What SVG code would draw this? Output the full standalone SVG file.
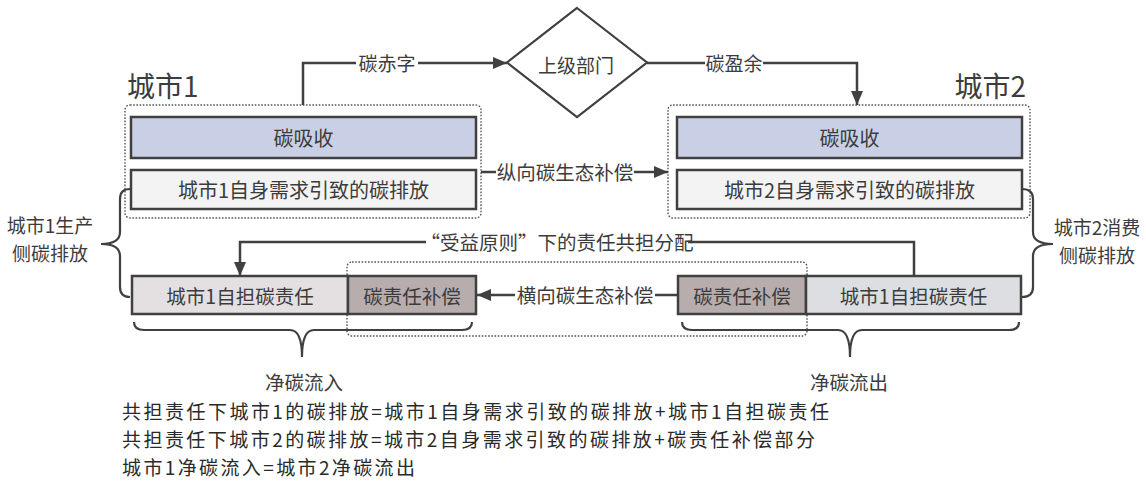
<svg xmlns="http://www.w3.org/2000/svg" width="1146" height="486" viewBox="0 0 1146 486">
<style>
.t{font-family:"Noto Sans CJK SC","Noto Sans",sans-serif;fill:#3c3c3c}
.c{text-anchor:middle;dominant-baseline:central}
.box{stroke:#404040;stroke-width:2.5}
.cont{fill:none;stroke:#555;stroke-width:1.4;stroke-dasharray:1.6 1.6}
.ln{fill:none;stroke:#404040;stroke-width:2.5}
.br{fill:none;stroke:#404040;stroke-width:2.2}
.bg{fill:#fff}
.f{font-family:"Noto Sans CJK SC","Noto Sans",sans-serif;font-weight:400;fill:#2a2a2a;font-size:19px}
</style>
<defs>
<marker id="ah" viewBox="0 0 14 12" refX="14" refY="6" markerWidth="14" markerHeight="12" markerUnits="userSpaceOnUse" orient="auto"><path d="M0,0 L14,6 L0,12 Z" fill="#404040"/></marker>
</defs>
<rect width="1146" height="486" fill="#fff"/>

<g id="city1">
<text class="t" x="127" y="97" font-size="28">城市1</text>
<rect class="cont" x="125" y="105" width="356" height="113" rx="5"/>
<rect class="box" x="131" y="117" width="345" height="41" fill="#c9d0e6"/>
<text class="t c" x="303.5" y="137.5" font-size="20">碳吸收</text>
<rect class="box" x="131" y="170" width="345" height="39" fill="#f3f3f4"/>
<text class="t c" x="303.5" y="189.5" font-size="20">城市1自身需求引致的碳排放</text>
</g>

<g id="city2">
<text class="t" x="1026" y="97" font-size="28" text-anchor="end">城市2</text>
<rect class="cont" x="668" y="105" width="362" height="113" rx="5"/>
<rect class="box" x="677" y="117" width="345" height="41" fill="#c9d0e6"/>
<text class="t c" x="849.5" y="137.5" font-size="20">碳吸收</text>
<rect class="box" x="677" y="170" width="345" height="39" fill="#f3f3f4"/>
<text class="t c" x="849.5" y="189.5" font-size="20">城市2自身需求引致的碳排放</text>
</g>

<g id="dept">
<polygon points="577,8 647,62.5 577,117 507,62.5" fill="#fff" stroke="#404040" stroke-width="2.2"/>
<text class="t c" x="576" y="64" font-size="19">上级部门</text>
</g>

<g id="mid-container">
<rect class="cont" x="347" y="262" width="460" height="74" rx="5"/>
</g>

<g id="city1-bottom">
<rect class="box" x="132" y="276" width="216" height="38" fill="#e4e0e2"/>
<text class="t c" x="240" y="295" font-size="19.5">城市1自担碳责任</text>
<rect class="box" x="348" y="276" width="128" height="38" fill="#b7adac"/>
<text class="t c" x="412" y="295" font-size="19.5">碳责任补偿</text>
</g>

<g id="city2-bottom">
<rect class="box" x="678" y="276" width="128" height="38" fill="#b7adac"/>
<text class="t c" x="742" y="295" font-size="19.5">碳责任补偿</text>
<rect class="box" x="806" y="276" width="215" height="38" fill="#dddee2"/>
<text class="t c" x="913.5" y="295" font-size="19.5">城市1自担碳责任</text>
</g>

<g id="connectors">
<path class="ln" d="M303,105 V63 H507" marker-end="url(#ah)"/>
<rect class="bg" x="356" y="52" width="62" height="22"/>
<text class="t c" x="387" y="62" font-size="19">碳赤字</text>

<path class="ln" d="M647,63 H857 V105" marker-end="url(#ah)"/>
<rect class="bg" x="705" y="52" width="58" height="22"/>
<text class="t c" x="734" y="62" font-size="19">碳盈余</text>

<path class="ln" d="M481,172 H668" marker-end="url(#ah)"/>
<rect class="bg" x="496" y="161" width="138" height="22"/>
<text class="t c" x="565" y="171" font-size="19.5">纵向碳生态补偿</text>

<path class="ln" d="M914,276 V242 H240 V276" marker-end="url(#ah)"/>
<rect class="bg" x="426" y="230" width="262" height="24"/>
<text class="t c" x="557" y="241" font-size="19.5">“受益原则”下的责任共担分配</text>

<path class="ln" d="M678,295 H477" marker-end="url(#ah)"/>
<rect class="bg" x="515" y="284" width="140" height="22"/>
<text class="t c" x="585" y="294" font-size="19.5">横向碳生态补偿</text>
</g>

<g id="braces">
<path class="br" d="M130,189 Q120,189 120,199 L120,232 Q120,244 101,244 Q120,244 120,256 L120,287 Q120,297 130,297"/>
<text class="t" x="50" y="233" font-size="19" text-anchor="middle">城市1生产</text>
<text class="t" x="50" y="261" font-size="19" text-anchor="middle">侧碳排放</text>

<path class="br" d="M1022,189 Q1033,189 1033,199 L1033,232 Q1033,244 1053,244 Q1033,244 1033,256 L1033,287 Q1033,297 1022,297"/>
<text class="t" x="1097" y="235" font-size="19" text-anchor="middle">城市2消费</text>
<text class="t" x="1097" y="263" font-size="19" text-anchor="middle">侧碳排放</text>

<path class="br" d="M134,322 Q134,330 144,330 L290,330 Q302,330 302,357 Q302,330 314,330 L462,330 Q472,330 472,322"/>
<text class="t" x="304" y="390" font-size="19.5" text-anchor="middle">净碳流入</text>

<path class="br" d="M682,322 Q682,330 692,330 L838,330 Q850,330 850,357 Q850,330 862,330 L1009,330 Q1019,330 1019,322"/>
<text class="t" x="849" y="390" font-size="19.5" text-anchor="middle">净碳流出</text>
</g>

<g id="notes">
<text class="f" x="122" y="419" textLength="707" lengthAdjust="spacing">共担责任下城市1的碳排放=城市1自身需求引致的碳排放+城市1自担碳责任</text>
<text class="f" x="122" y="447" textLength="693" lengthAdjust="spacing">共担责任下城市2的碳排放=城市2自身需求引致的碳排放+碳责任补偿部分</text>
<text class="f" x="122" y="475" textLength="293" lengthAdjust="spacing">城市1净碳流入=城市2净碳流出</text>
</g>
</svg>
